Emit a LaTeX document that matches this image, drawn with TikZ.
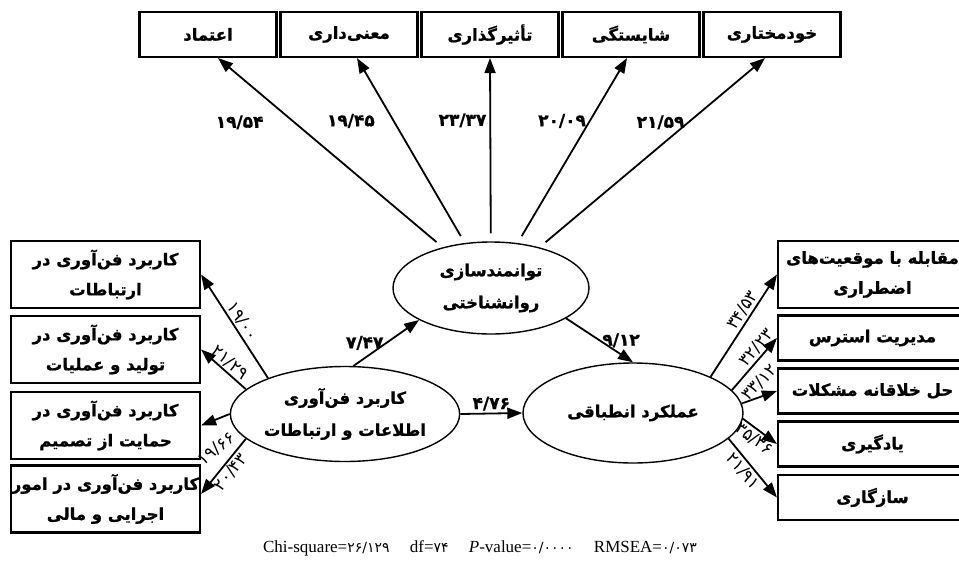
\documentclass[tikz,border=0pt]{standalone}
\usepackage{fontspec}
\usepackage{tikz}
\usetikzlibrary{shapes.geometric,arrows.meta}
\setmainfont{Liberation Serif}
\newfontfamily\farsi[Script=Arabic, BoldFeatures={FakeBold=1}]{DejaVu Sans}
\TeXXeTstate=1
\newcommand{\fa}[1]{\beginR #1\endR}

\tikzset{
  box/.style={draw, line width=2.1pt, minimum width=137pt, minimum height=45pt,
    inner sep=0pt, align=center, font=\farsi\bfseries\fontsize{16.5}{30}\selectfont},
  sidebox/.style={box, minimum width=189pt},
  latent/.style={draw, ellipse, line width=1.4pt, inner sep=0pt, align=center,
    font=\farsi\bfseries\fontsize{16.5}{32}\selectfont},
  arr/.style={-{Triangle[length=15pt,width=11pt]}, line width=1.8pt},
  coef/.style={font=\farsi\bfseries\fontsize{17}{19}\selectfont, inner sep=2pt},
  load/.style={font=\farsi\fontsize{17}{19}\selectfont, inner sep=1.5pt, sloped},
  tilt/.style={font=\farsi\fontsize{17}{19}\selectfont, inner sep=1.5pt}
}

\begin{document}
\begin{tikzpicture}[x=1pt,y=-1pt]
\useasboundingbox (0,0) rectangle (959,565);

% top indicators
\node[box] (t1) at (208,34.5) {\fa{اعتماد}};
\node[box] (t2) at (349,34.5) {\fa{معنی^^^^200cداری}};
\node[box] (t3) at (490,34.5) {\fa{تأثیرگذاری}};
\node[box] (t4) at (631,34.5) {\fa{شایستگی}};
\node[box] (t5) at (772,34.5) {\fa{خودمختاری}};

% latent variables
\node[latent, minimum width=196pt, minimum height=92pt] (emp) at (491,288)
  {\fa{توانمندسازی}\\\fa{روانشناختی}};
\node[latent, minimum width=218pt, minimum height=95pt] (ict) at (345,414)
  {\fa{کاربرد فن^^^^200cآوری}\\\fa{اطلاعات و ارتباطات}};
\node[latent, minimum width=220pt, minimum height=100pt] (adp) at (633,413)
  {\fa{عملکرد انطباقی}};

% left indicators
\node[sidebox, minimum height=67pt] (l1) at (105.5,274.5)
  {\fa{کاربرد فن^^^^200cآوری در}\\\fa{ارتباطات}};
\node[sidebox, minimum height=67pt] (l2) at (105.5,349.5)
  {\fa{کاربرد فن^^^^200cآوری در}\\\fa{تولید و عملیات}};
\node[sidebox, minimum height=67pt] (l3) at (105.5,425.5)
  {\fa{کاربرد فن^^^^200cآوری در}\\\fa{حمایت از تصمیم}};
\node[sidebox, minimum height=67pt] (l4) at (105.5,499)
  {\fa{کاربرد فن^^^^200cآوری در امور}\\\fa{اجرایی و مالی}};

% right indicators
\node[sidebox, minimum height=67pt] (r1) at (872.5,274.5)
  {\fa{مقابله با موقعیت^^^^200cهای}\\\fa{اضطراری}};
\node[sidebox] (r2) at (872.5,338) {\fa{مدیریت استرس}};
\node[sidebox] (r3) at (872.5,391) {\fa{حل خلاقانه مشکلات}};
\node[sidebox] (r4) at (872.5,444) {\fa{یادگیری}};
\node[sidebox] (r5) at (872.5,497.5) {\fa{سازگاری}};

% empowerment loadings
\draw[arr, shorten <=8pt] (emp) -- ([xshift=10pt]t1.south)
  node[coef, pos=0.66, anchor=east, xshift=-28pt] {۱۹/۵۴};
\draw[arr, shorten <=8pt] (emp) -- ([xshift=8pt]t2.south)
  node[coef, pos=0.66, anchor=east, xshift=-16pt] {۱۹/۴۵};
\draw[arr, shorten <=8pt] (emp) -- (t3.south)
  node[coef, pos=0.66, anchor=east, xshift=-1pt] {۲۳/۳۷};
\draw[arr, shorten <=8pt] (emp) -- ([xshift=-4pt]t4.south)
  node[coef, pos=0.66, anchor=east, xshift=-1pt] {۲۰/۰۹};
\draw[arr, shorten <=8pt] (emp) -- ([xshift=-7pt]t5.south)
  node[coef, pos=0.66, anchor=east, xshift=-1pt] {۲۱/۵۹};

% structural paths
\draw[arr] (ict.80) -- (emp.204) node[coef, midway, left] {۷/۴۷};
\draw[arr] (emp.338) -- (adp.north) node[coef, midway, right] {۹/۱۲};
\draw[arr] (ict.east) -- (adp.west) node[coef, midway, above] {۴/۷۶};

% ict loadings
\draw[arr] (ict.155) -- (l1.east) node[load, midway, above] {۱۹/۰۰};
\draw[arr] (ict.166) -- (l2.east) node[load, midway, above] {۲۱/۲۹};
\draw[arr] (ict.180) -- (l3.east) node[tilt, midway, yshift=-29pt, xshift=1pt, rotate=40] {۱۹/۶۶};
\draw[arr] (ict.194) -- ([yshift=5pt]l4.east) node[load, midway, below] {۲۰/۴۳};

% adaptive performance loadings
\draw[arr] (adp.25) -- (r1.west) node[load, pos=0.6, above] {۳۴/۵۳};
\draw[arr] (adp.13) -- (r2.west) node[load, pos=0.7, above] {۳۲/۲۳};
\draw[arr] (adp.5) -- (r3.west) node[tilt, midway, yshift=15pt, rotate=45] {۳۳/۱۲};
\draw[arr] (adp.357) -- (r4.west) node[load, midway, below] {۳۵/۳۶};
\draw[arr] (adp.345) -- (r5.west) node[load, pos=0.45, below] {۲۱/۹۱};

% fit indices
\node[font=\fontsize{17}{20}\selectfont] (fit) at (480,548)
  {Chi-square={\farsi\fontsize{14}{16}\selectfont ۲۶/۱۲۹}\hspace{16pt}
   df={\farsi\fontsize{14}{16}\selectfont ۷۴}\hspace{16pt}
   \textit{P}-value={\farsi\fontsize{14}{16}\selectfont ۰/۰۰۰۰}\hspace{16pt}
   RMSEA={\farsi\fontsize{14}{16}\selectfont ۰/۰۷۳}};

\end{tikzpicture}
\end{document}
